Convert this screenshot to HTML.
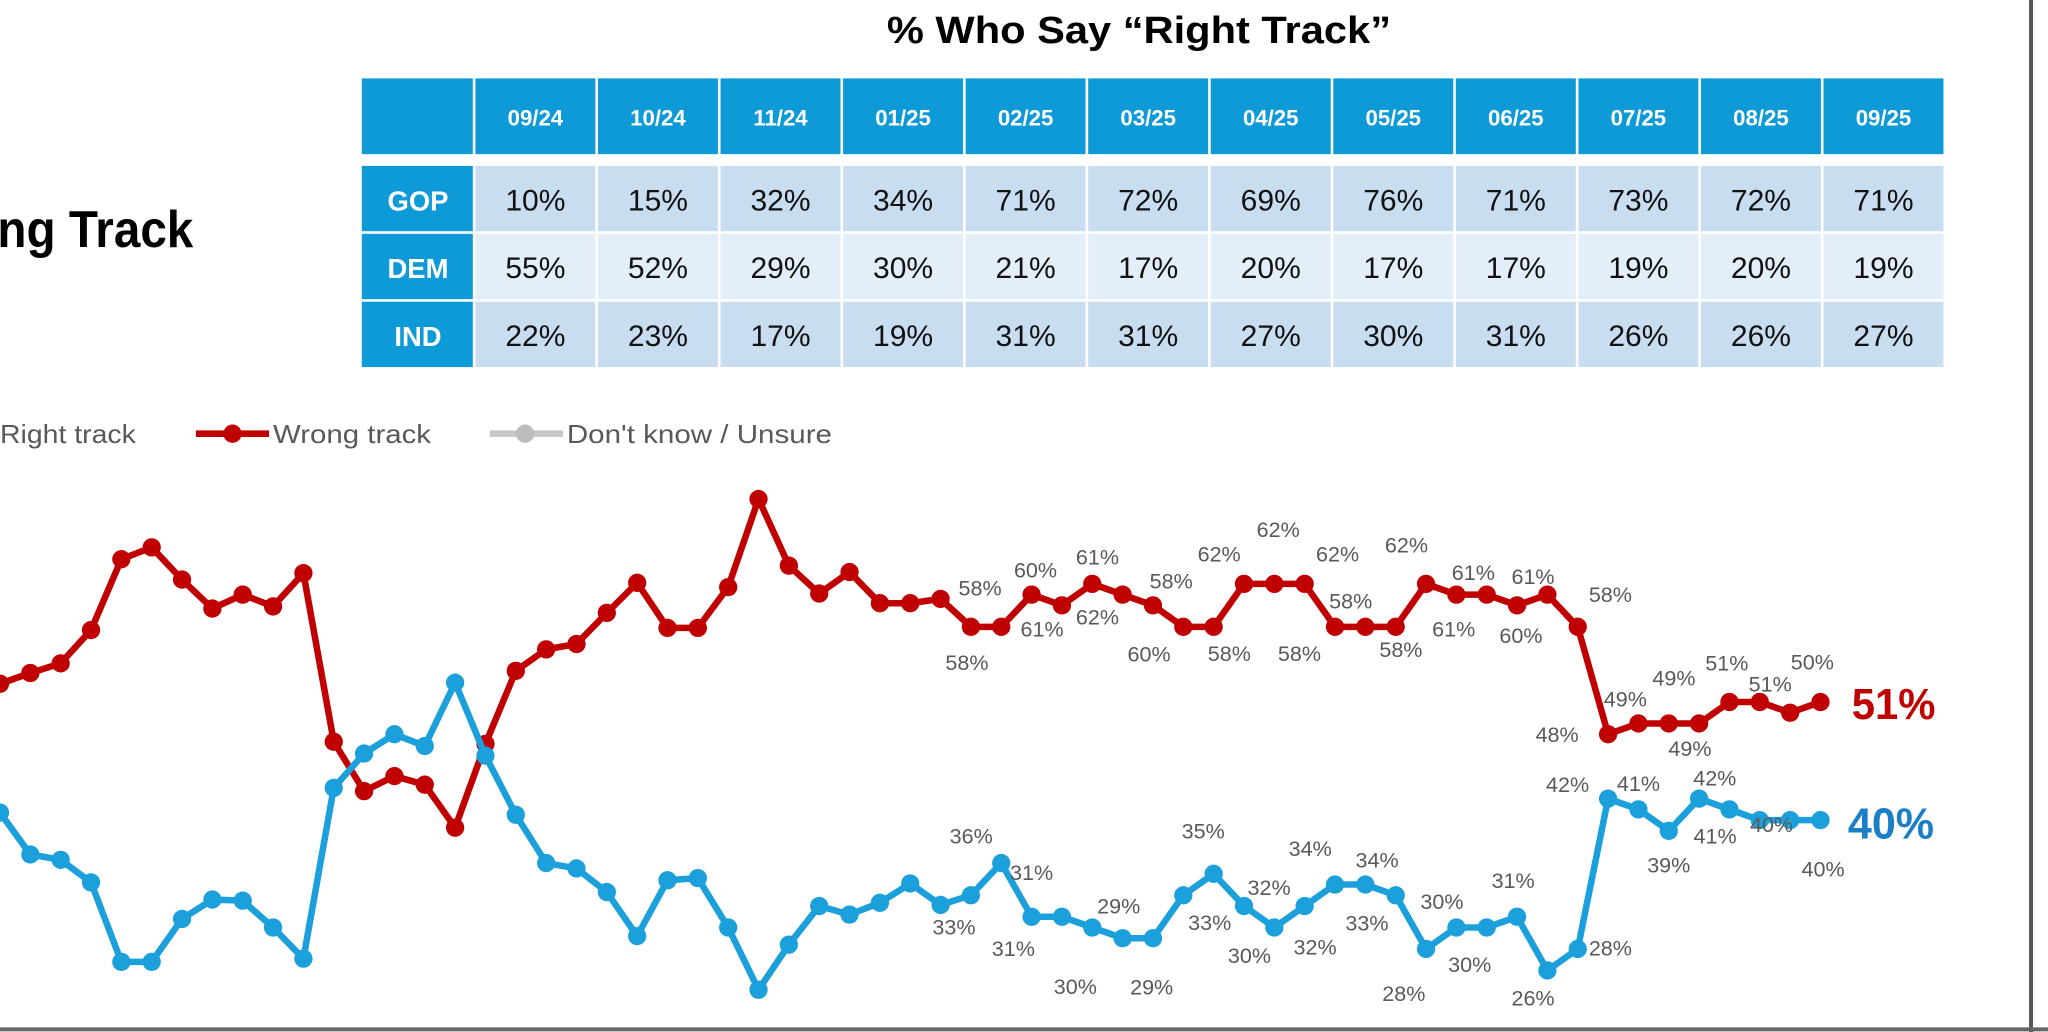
<!DOCTYPE html>
<html><head><meta charset="utf-8"><style>
html,body{margin:0;padding:0;background:#fff;overflow:hidden}
svg{display:block}
</style></head><body>
<svg id="root" width="2048" height="1032" viewBox="0 0 1568 790" preserveAspectRatio="none" xmlns="http://www.w3.org/2000/svg" font-family="'Liberation Sans', sans-serif">
<rect width="1568" height="790" fill="#fff"/>
<text x="872" y="33" text-anchor="middle" font-size="29" font-weight="bold" fill="#000" textLength="386" lengthAdjust="spacingAndGlyphs">% Who Say “Right Track”</text>
<text x="-2" y="189" font-size="40" font-weight="bold" fill="#000" textLength="150" lengthAdjust="spacingAndGlyphs">ng Track</text>
<g id="table"></g>
<g>
<text x="0" y="339" font-size="20" fill="#595959" textLength="104" lengthAdjust="spacingAndGlyphs">Right track</text>
<line x1="150" y1="332" x2="206" y2="332" stroke="#C00000" stroke-width="5"/>
<circle cx="178" cy="332" r="7" fill="#C00000"/>
<text x="209" y="339" font-size="20" fill="#595959" textLength="121" lengthAdjust="spacingAndGlyphs">Wrong track</text>
<line x1="375" y1="332" x2="431" y2="332" stroke="#C8C8C8" stroke-width="5"/>
<circle cx="402" cy="332" r="7" fill="#BDBDBD"/>
<text x="434" y="339" font-size="20" fill="#595959" textLength="203" lengthAdjust="spacingAndGlyphs">Don't know / Unsure</text>
</g>
<g id="chart"></g>
<line x1="1555" y1="0" x2="1555" y2="790" stroke="#555" stroke-width="3"/>
<line x1="0" y1="788" x2="1568" y2="788" stroke="#666" stroke-width="3"/>
</svg>
<script>
const months = ["09/24","10/24","11/24","01/25","02/25","03/25","04/25","05/25","06/25","07/25","08/25","09/25"];
const gop = [10,15,32,34,71,72,69,76,71,73,72,71];
const dem = [55,52,29,30,21,17,20,17,17,19,20,19];
const ind = [22,23,17,19,31,31,27,30,31,26,26,27];

const wrongTrack = [52.7,53.7,54.6,57.7,64.3,65.4,62.4,59.7,61,59.9,63,47.3,42.7,44.1,43.3,39.3,47.1,53.9,55.9,56.4,59.3,62.1,57.9,57.9,61.7,69.9,63.7,61.1,63.1,60.2,60.2,60.6,58,58,61,60,62,61,60,58,58,62,62,62,58,58,58,62,61,61,60,61,58,48,49,49,49,51,51,50,51];
const rightTrack = [40.7,36.8,36.3,34.2,26.8,26.8,30.8,32.6,32.5,30,27.1,43,46.2,48,46.9,52.8,46,40.5,36,35.5,33.3,29.2,34.4,34.6,30,24.2,28.4,32,31.2,32.3,34.1,32.1,33,36,31,31,30,29,29,33,35,32,30,32,34,34,33,28,30,30,31,26,28,42,41,39,42,41,40,40,40];
// printed data labels: [pointIndex, text, dx, dy] (offset of label centre from its point)
const redLabels = [[32,"58%",-3,27],[32,"58%",7,-30],[34,"60%",3,-19],[34,"61%",8,26],[36,"61%",4,-21],[36,"62%",4,25],[38,"58%",14,-19],[38,"60%",-3,37],[41,"62%",-19,-23],[40,"58%",12,20],[42,"62%",3,-42],[43,"58%",-4,53],[44,"62%",2,-56],[44,"58%",12,-20],[47,"62%",-15,-30],[46,"58%",4,17],[48,"61%",13,-17],[48,"61%",-2,26],[51,"61%",-11,-14],[50,"60%",3,23],[52,"58%",25,-25],[53,"48%",-39,0],[54,"49%",-10,-19],[55,"49%",4,-35],[56,"49%",-7,19],[57,"51%",-2,-30],[58,"51%",8,-14],[59,"50%",17,-39]];
const blueLabels = [[33,"36%",-23,-21],[32,"33%",-13,24],[34,"31%",0,-34],[34,"31%",-14,24],[36,"30%",-13,45],[37,"29%",-3,-25],[38,"29%",-1,37],[40,"35%",-8,-33],[40,"33%",-3,37],[42,"32%",-4,-31],[42,"30%",-19,21],[44,"34%",-19,-28],[43,"32%",8,31],[45,"34%",9,-19],[46,"33%",-22,21],[48,"30%",-11,-20],[47,"28%",-17,34],[49,"30%",-13,28],[50,"31%",-3,-28],[51,"26%",-11,21],[52,"28%",25,-1],[53,"42%",-31,-11],[54,"41%",0,-20],[55,"39%",0,26],[56,"42%",12,-16],[57,"41%",-11,20],[58,"40%",9,3],[60,"40%",2,37]];

const NS = "http://www.w3.org/2000/svg";
function mk(tag, attrs, parent){const e=document.createElementNS(NS,tag);for(const k in attrs)e.setAttribute(k,attrs[k]);parent.appendChild(e);return e;}

// Table
const table = document.getElementById('table');
const tx0=277, labW=86, colW=93.83, headTop=60, headBot=118, rowTops=[127,179,231], rowH=51;
const hdr = mk('rect',{x:tx0,y:headTop,width:labW-1,height:headBot-headTop,fill:'#0E9AD7'},table);


months.forEach((m,i)=>{
  const x = tx0+labW+i*colW;
  const r = mk('rect',{x:x+1,y:headTop,width:colW-2,height:headBot-headTop,fill:'#0E9AD7'},table);
  
  
  const t = mk('text',{x:x+colW/2,y:96,'text-anchor':'middle','font-size':17,'font-weight':'bold',fill:'#fff'},table);
  
  
  t.textContent=m;
});
const rows=[["GOP",gop,'#C9DDF0'],["DEM",dem,'#E4EEF8'],["IND",ind,'#C9DDF0']];
rows.forEach((row,ri)=>{
  const y=rowTops[ri];
  const lr = mk('rect',{x:tx0,y:y,width:labW-1,height:rowH-1,fill:'#0E9AD7'},table);
  
  
  const lt = mk('text',{x:tx0+labW/2,y:y+34,'text-anchor':'middle','font-size':21,'font-weight':'bold',fill:'#fff'},table);
  
  
  lt.textContent=row[0];
  row[1].forEach((v,i)=>{
    const x = tx0+labW+i*colW;
    const c = mk('rect',{x:x+1,y:y,width:colW-2,height:rowH-1,fill:row[2]},table);
    
    
    const t = mk('text',{x:x+colW/2,y:y+34,'text-anchor':'middle','font-size':23,fill:'#111'},table);
    
    
    t.textContent=v+'%';
  });
});

// Chart
const chart = document.getElementById('chart');
const xStep = 23.23, x0 = 0;
function xs(i){return x0+i*xStep;}
function ys(v){return 956.6-8.22*v;}
function drawSeries(vals,color,name){
  const p = mk('polyline',{points:vals.map((v,i)=>xs(i)+','+ys(v)).join(' '),fill:'none',stroke:color,'stroke-width':5,'stroke-linejoin':'round'},chart);
  
  
  vals.forEach((v,i)=>{
    const c = mk('circle',{cx:xs(i),cy:ys(v),r:7,fill:color},chart);
    
    
  });
}
drawSeries(wrongTrack,'#C00000','wrong-track');
drawSeries(rightTrack,'#1BA0DB','right-track');
function drawLabels(list,vals,name){
  list.forEach(l=>{
    const t = mk('text',{x:xs(l[0])+l[2],y:ys(vals[l[0]])+l[3]+6,'text-anchor':'middle','font-size':16.5,fill:'#595959'},chart);
    
    
    t.textContent=l[1];
  });
}
drawLabels(redLabels,wrongTrack,'wrong-track');
drawLabels(blueLabels,rightTrack,'right-track');
const last = wrongTrack.length-1;
const e1 = mk('text',{x:xs(last)+24,y:ys(wrongTrack[last])+13,'font-size':33,'font-weight':'bold',fill:'#C00000',textLength:64,lengthAdjust:'spacingAndGlyphs'},chart);


e1.textContent=Math.round(wrongTrack[last])+'%';
const e2 = mk('text',{x:xs(last)+21,y:ys(rightTrack[last])+14,'font-size':33,'font-weight':'bold',fill:'#1B7FC8',textLength:66,lengthAdjust:'spacingAndGlyphs'},chart);


e2.textContent=Math.round(rightTrack[last])+'%';
</script>
</body></html>
